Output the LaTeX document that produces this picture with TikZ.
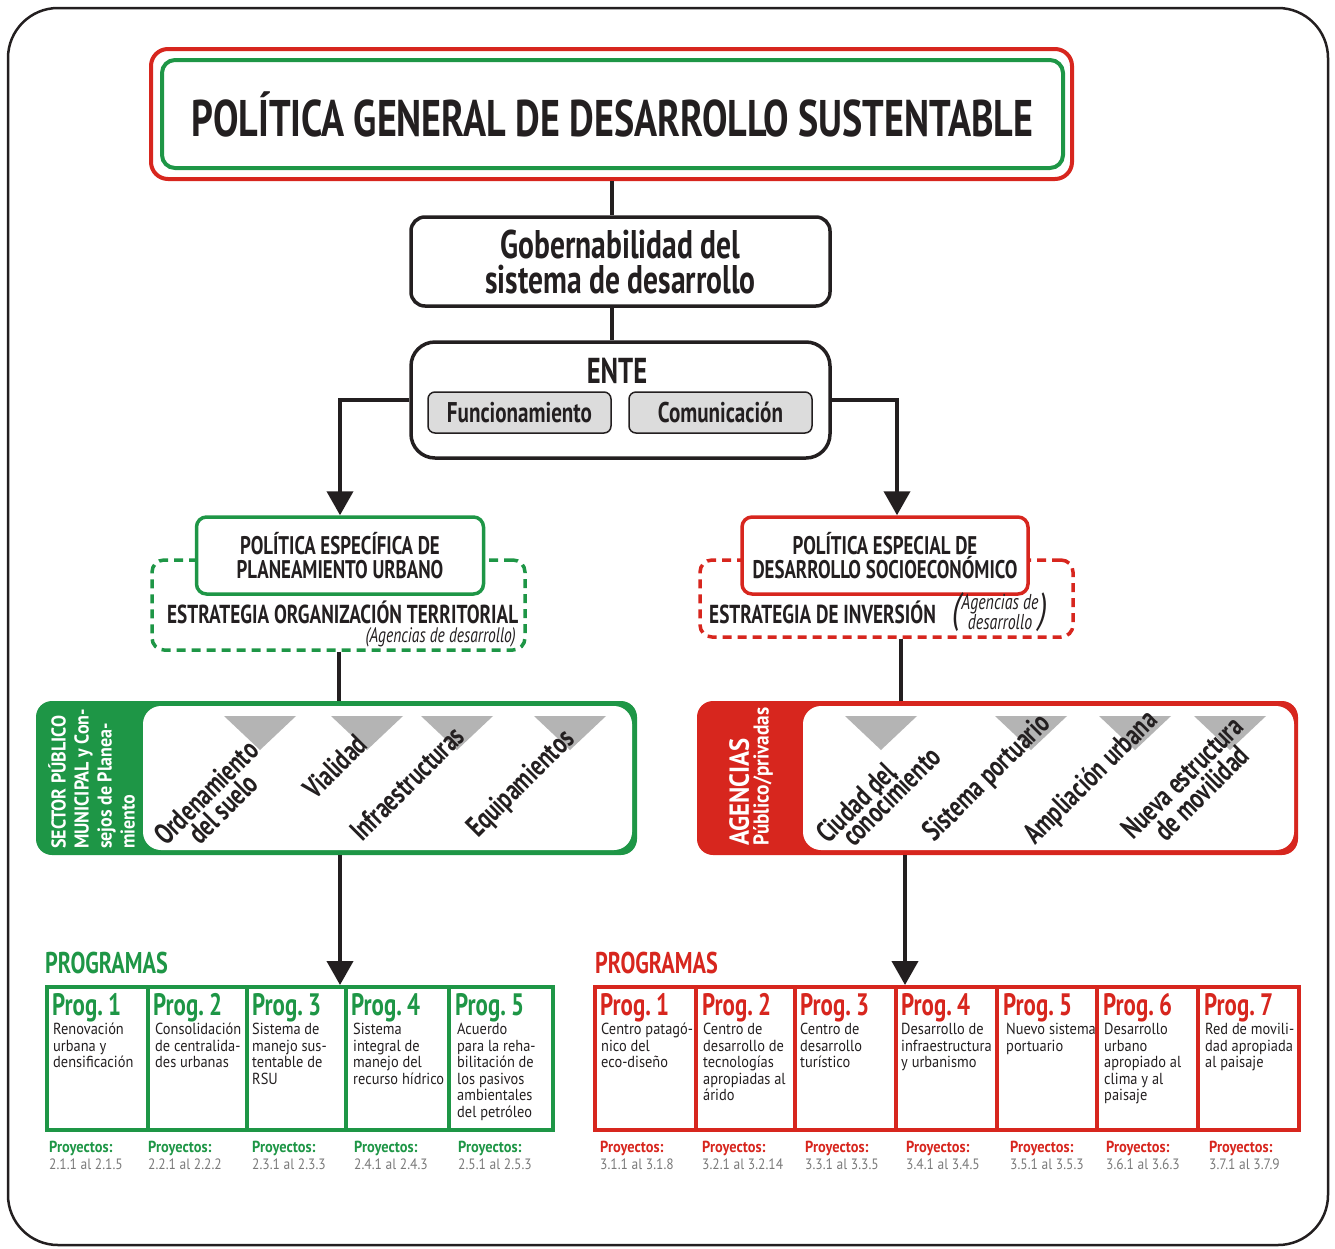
\documentclass[tikz,border=0pt]{standalone}
\usepackage{fontspec}
\setmainfont{PT Sans}[FakeStretch=0.74]
\newfontfamily\bodyfont{PT Sans}[FakeStretch=0.9]
\usetikzlibrary{arrows.meta}
\definecolor{pgreen}{HTML}{1E9646}
\definecolor{pred}{HTML}{D7261E}
\definecolor{ink}{HTML}{231F20}
\definecolor{tri}{HTML}{B4B4B4}
\definecolor{boxgray}{HTML}{DCDCDC}
\definecolor{numgray}{HTML}{7A7A7A}
\newcommand\fs[2]{\fontsize{#1}{#2}\selectfont}

\begin{document}
\begin{tikzpicture}[x=1pt,y=-1pt,
  conn/.style={line width=4pt, draw=ink},
  tipline/.style={conn, -{Triangle[width=26pt,length=24pt]}},
  plainbox/.style={draw=ink, line width=3.5pt, fill=white, inner sep=0pt},
  subbox/.style={draw=ink, line width=1.5pt, fill=boxgray, rounded corners=7pt,
    minimum width=183pt, minimum height=41pt, inner sep=0pt, font=\fs{28.5}{28}\bfseries, text=ink},
  polbox/.style={line width=3.5pt, fill=white, rounded corners=10pt, minimum height=77pt,
    inner sep=0pt, align=center, font=\fs{25.5}{24.5}\bfseries, text=ink},
  stratbox/.style={line width=3.5pt, dash pattern=on 9pt off 6pt, rounded corners=12pt, inner sep=0pt},
  strattxt/.style={inner sep=0pt, font=\fs{26}{26}\bfseries, text=ink},
  bandlbl/.style={rotate=45, anchor=base west, inner sep=0pt, font=\fs{29.5}{29.5}\bfseries, text=ink},
  sidelbl/.style={rotate=90, anchor=north west, inner sep=0pt, align=left, text=white},
  cell/.style={draw, line width=3.5pt, anchor=north west, minimum height=143pt, inner sep=0pt},
  progtitle/.style={anchor=base west, inner sep=0pt, font=\fs{31}{31}\bfseries},
  desc/.style={anchor=north west, align=left, inner sep=0pt, font=\bodyfont\fs{16}{16.5}, text=ink},
  proy/.style={anchor=base west, inner sep=0pt, font=\bodyfont\fs{16}{16}\bfseries},
  rng/.style={anchor=base west, inner sep=0pt, font=\bodyfont\fs{15}{15}, text=numgray},
  head/.style={anchor=base west, inner sep=0pt, font=\fs{30}{30}\bfseries}]

\useasboundingbox (0,0) rectangle (1335,1248);

% outer frame
\draw[line width=2.5pt, draw=ink, rounded corners=50pt] (8,8) rectangle (1328,1245);

% general policy
\node[draw=pred, line width=4pt, rounded corners=17pt, minimum width=921pt, minimum height=130pt, inner sep=0pt] (titleout) at (611.5,114) {};
\node[draw=pgreen, line width=4pt, rounded corners=13pt, minimum width=901pt, minimum height=108pt, inner sep=0pt,
  font=\fs{51.5}{52}\bfseries, text=ink] (title) at (612.5,114) {POLÍTICA GENERAL DE DESARROLLO SUSTENTABLE};

% governance
\node[plainbox, rounded corners=14pt, minimum width=419pt, minimum height=89pt, align=center,
  font=\fs{40}{35}\bfseries, text=ink] (gob) at (620.5,261.5) {Gobernabilidad del\\sistema de desarrollo};

% ENTE
\node[plainbox, rounded corners=24pt, minimum width=419pt, minimum height=116pt] (ente) at (620.5,400) {};
\node[inner sep=0pt, font=\fs{36}{36}\bfseries, text=ink] (entetxt) at (617,371) {ENTE};
\node[subbox] (func) at (519.5,412.5) {Funcionamiento};
\node[subbox] (com) at (720.5,412.5) {Comunicación};

\draw[conn] (titleout.south) -- (titleout.south |- gob.north);
\draw[conn] (gob.south -| titleout.south) -- (ente.north -| titleout.south);

% strategy frames (behind the policy boxes)
\node[stratbox, draw=pgreen, minimum width=373pt, minimum height=90pt] (lstrat) at (338.5,605) {};
\node[stratbox, draw=pred, minimum width=373pt, minimum height=77pt] (rstrat) at (886.5,598.5) {};

\node[polbox, draw=pgreen, minimum width=287pt] (lpol) at (340,555.5) {POLÍTICA ESPECÍFICA DE\\PLANEAMIENTO URBANO};
\node[polbox, draw=pred, minimum width=286pt] (rpol) at (885,555.5) {POLÍTICA ESPECIAL DE\\DESARROLLO SOCIOECONÓMICO};

\node[strattxt, anchor=base west] (lsttxt) at (167,623) {ESTRATEGIA ORGANIZACIÓN TERRITORIAL};
\node[inner sep=0pt, anchor=base east, font=\fs{21}{21}\itshape, text=ink] (lagen) at (516,642) {(Agencias de desarrollo)};
\node[strattxt, anchor=base west] (rsttxt) at (709,623) {ESTRATEGIA DE INVERSIÓN};
\node[inner sep=0pt, anchor=west, text=ink] (ragen) at (952,613)
  {\fs{42}{42}\itshape(\kern1pt\raisebox{3pt}{\fs{21.5}{14.5}\begin{tabular}{@{}c@{}}Agencias de\\desarrollo\end{tabular}}\kern1pt)};

\draw[tipline] (ente.west) -| (lpol.north);
\draw[tipline] (ente.east) -| ([xshift=12pt]rpol.north);

% action bands
\node[fill=pgreen, rounded corners=16pt, minimum width=601pt, minimum height=154pt, inner sep=0pt] (lband) at (336.5,778) {};
\node[fill=white, rounded corners=18pt, minimum width=489pt, minimum height=144pt, inner sep=0pt] (lbandin) at (387.5,778) {};
\node[fill=pred, rounded corners=16pt, minimum width=601pt, minimum height=154pt, inner sep=0pt] (rband) at (997.5,778) {};
\node[fill=white, rounded corners=18pt, minimum width=491pt, minimum height=144pt, inner sep=0pt] (rbandin) at (1048.5,778) {};

\draw[conn] (lstrat.south) -- (lstrat.south |- lband.north);
\draw[conn] ([xshift=14.5pt]rstrat.south) -- ([xshift=14.5pt]rstrat.south |- rband.north);

\node[sidelbl, font=\bodyfont\fs{20}{23}\bfseries] (lside) at (48,849)
  {SECTOR PÚBLICO\\MUNICIPAL y Con-\\sejos de Planea-\\miento};
\node[sidelbl] (rside) at (729,846)
  {{\bodyfont\fs{27.5}{27.5}\bfseries AGENCIAS}\\[3pt]{\bodyfont\fs{21.5}{24}\bfseries Público/privadas}};

% markers
\foreach \a in {224,331,421,534,845,995,1099,1194}
  \fill[tri] (\a,716) -- (\a+72,716) -- (\a+36,750) -- cycle;

\node[bandlbl] (l1a) at (166,847) {Ordenamiento};
\node[bandlbl] (l1b) at (200,846) {del suelo};
\node[bandlbl] (l2) at (315,801) {Vialidad};
\node[bandlbl] (l3) at (362,843) {Infraestructuras};
\node[bandlbl] (l4) at (478,839) {Equipamientos};
\node[bandlbl] (r1a) at (828,845) {Ciudad del};
\node[bandlbl] (r1b) at (854,848) {conocimiento};
\node[bandlbl] (r2) at (934,843) {Sistema portuario};
\node[bandlbl] (r3) at (1035,846) {Ampliación urbana};
\node[bandlbl] (r4a) at (1133,841) {Nueva estructura};
\node[bandlbl] (r4b) at (1166,843) {de movilidad};

% programmes
\node[head, text=pgreen] (lhead) at (45,973) {PROGRAMAS};
\node[head, text=pred] (rhead) at (595,973) {PROGRAMAS};

\foreach \n/\xa/\xb in {1/45/146,2/146/245,3/245/344,4/344/447,5/447/551}
  \node[cell, draw=pgreen, minimum width={(\xb-\xa)*1pt}] (lp\n) at (\xa,985) {};
\foreach \n/\xa/\xb in {1/593/694,2/694/793,3/793/894,4/894/995,5/995/1095,6/1095/1196,7/1196/1297}
  \node[cell, draw=pred, minimum width={(\xb-\xa)*1pt}] (rp\n) at (\xa,985) {};

\draw[tipline] ([xshift=3.5pt]lband.south) -- ([xshift=3.5pt]lband.south |- lp3.north);
\draw[tipline] ([xshift=-92.5pt]rband.south) -- ([xshift=-92.5pt]rband.south |- rp4.north);

\foreach \n/\x in {1/52,2/153,3/252,4/351,5/455}
  \node[progtitle, text=pgreen] (lt\n) at (\x,1015) {Prog.\,\n};
\foreach \n/\x in {1/600,2/702,3/800,4/901,5/1003,6/1103,7/1204}
  \node[progtitle, text=pred] (rt\n) at (\x,1015) {Prog.\,\n};

\node[desc] (ld1) at (53,1023) {Renovación\\urbana y\\densificación};
\node[desc] (ld2) at (155,1023) {Consolidación\\de centralida-\\des urbanas};
\node[desc] (ld3) at (252,1023) {Sistema de\\manejo sus-\\tentable de\\RSU};
\node[desc] (ld4) at (353,1023) {Sistema\\integral de\\manejo del\\recurso hídrico};
\node[desc] (ld5) at (457,1023) {Acuerdo\\para la reha-\\bilitación de\\los pasivos\\ambientales\\del petróleo};

\node[desc] (rd1) at (601,1023) {Centro patagó-\\nico del\\eco-diseño};
\node[desc] (rd2) at (703,1023) {Centro de\\desarrollo de\\tecnologías\\apropiadas al\\árido};
\node[desc] (rd3) at (800,1023) {Centro de\\desarrollo\\turístico};
\node[desc] (rd4) at (901,1023) {Desarrollo de\\infraestructura\\y urbanismo};
\node[desc] (rd5) at (1006,1023) {Nuevo sistema\\portuario};
\node[desc] (rd6) at (1104,1023) {Desarrollo\\urbano\\apropiado al\\clima y al\\paisaje};
\node[desc] (rd7) at (1205,1023) {Red de movili-\\dad apropiada\\al paisaje};

\foreach \n/\x/\r in {1/49/2.1.1 al 2.1.5,2/148/2.2.1 al 2.2.2,3/252/2.3.1 al 2.3.3,4/354/2.4.1 al 2.4.3,5/458/2.5.1 al 2.5.3}{
  \node[proy, text=pgreen] (lpy\n) at (\x,1152) {Proyectos:};
  \node[rng] (lpr\n) at (\x,1169) {\r};
}
\foreach \n/\x/\r in {1/600/3.1.1 al 3.1.8,2/702/3.2.1 al 3.2.14,3/805/3.3.1 al 3.3.5,4/906/3.4.1 al 3.4.5,5/1010/3.5.1 al 3.5.3,6/1106/3.6.1 al 3.6.3,7/1209/3.7.1 al 3.7.9}{
  \node[proy, text=pred] (rpy\n) at (\x,1152) {Proyectos:};
  \node[rng] (rpr\n) at (\x,1169) {\r};
}
\end{tikzpicture}
\end{document}
